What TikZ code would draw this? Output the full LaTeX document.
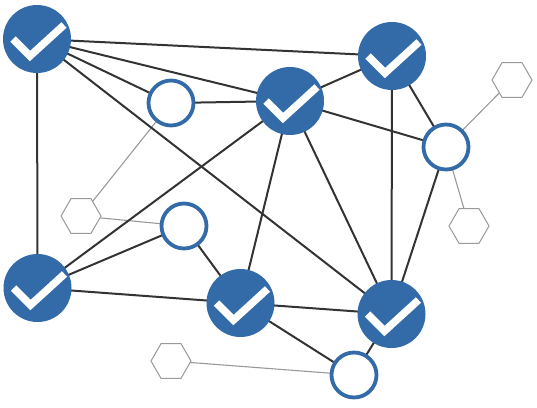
\documentclass[tikz,border=0pt]{standalone}
\usetikzlibrary{shapes.geometric,backgrounds}
\definecolor{nodeblue}{HTML}{336BA9}
\definecolor{edgedark}{HTML}{333333}
\definecolor{edgegray}{HTML}{999999}
\tikzset{
  x=1pt,y=-1pt,
  donenode/.style={circle,fill=nodeblue,draw=none,minimum size=68pt,inner sep=0pt,
    path picture={\draw[white,line width=7.5pt,miter limit=10]
      ([xshift=-24pt,yshift=0pt]path picture bounding box.center) --
      ([xshift=-7pt,yshift=-17pt]path picture bounding box.center) --
      ([xshift=27pt,yshift=14pt]path picture bounding box.center);}},
  opennode/.style={circle,fill=white,draw=nodeblue,line width=3.8pt,minimum size=45pt,inner sep=0pt},
  hexnode/.style={regular polygon,regular polygon sides=6,draw=edgegray,fill=white,line width=1pt,minimum size=40pt,inner sep=0pt},
  mainedge/.style={draw=edgedark,line width=2pt},
  sideedge/.style={draw=edgegray,line width=1.1pt}
}
\begin{document}
\begin{tikzpicture}
\useasboundingbox (0,0) rectangle (537,407);
\node[donenode] (A) at (37,39) {};
\node[donenode] (B) at (290,101) {};
\node[donenode] (C) at (392,56) {};
\node[donenode] (D) at (37.5,288) {};
\node[donenode] (E) at (240.5,303) {};
\node[donenode] (F) at (391.5,314) {};
\node[opennode] (a) at (171,103) {};
\node[opennode] (b) at (446,147) {};
\node[opennode] (c) at (184,226) {};
\node[opennode] (d) at (354,375) {};
\node[hexnode] (h1) at (512,80) {};
\node[hexnode] (h2) at (469,226) {};
\node[hexnode] (h3) at (81,216) {};
\node[hexnode] (h4) at (171,361) {};
\begin{scope}[on background layer]
\draw[sideedge] (a.center) -- (h3.center);
\draw[sideedge] (c.center) -- (h3.center);
\draw[sideedge] (b.center) -- (h1.center);
\draw[sideedge] (b.center) -- (h2.center);
\draw[sideedge] (d.center) -- (h4.center);
\foreach \p/\q in {A/C,A/B,A/a,A/F,A/D,a/B,B/C,B/b,B/D,B/E,B/F,C/b,C/F,b/F,D/c,D/E,c/E,E/F,E/d,F/d}
  \draw[mainedge] (\p.center) -- (\q.center);
\end{scope}
\end{tikzpicture}
\end{document}
